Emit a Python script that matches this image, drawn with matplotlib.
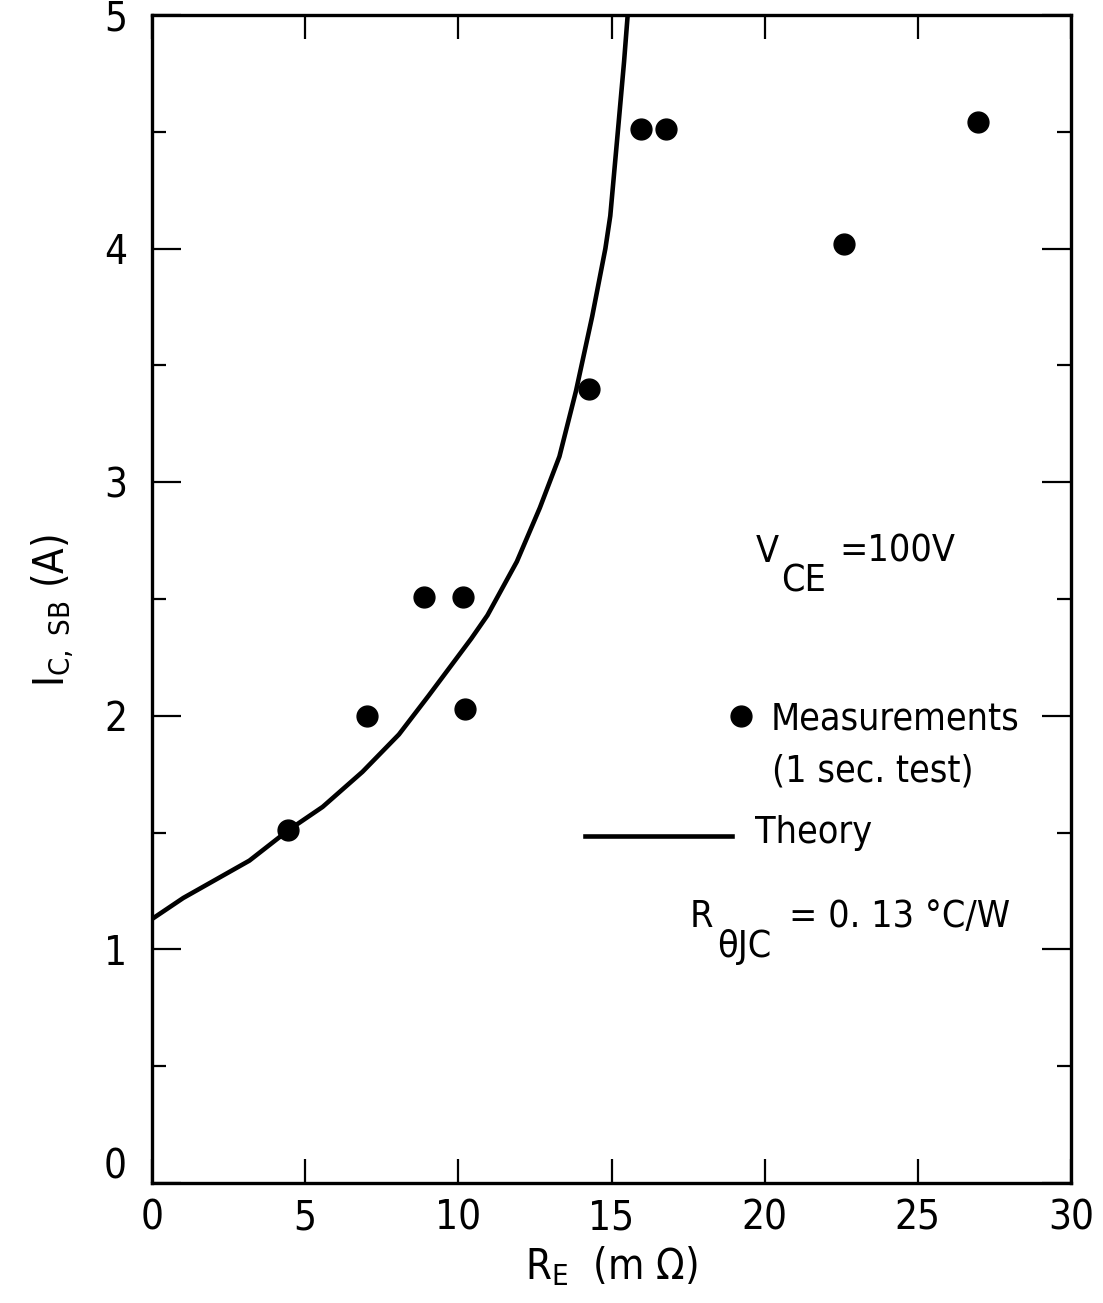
import matplotlib
matplotlib.use("Agg")
import matplotlib.pyplot as plt
from matplotlib.transforms import ScaledTranslation

plt.rcParams['font.family'] = ['DejaVu Sans']
plt.rcParams['font.stretch'] = 'condensed'
plt.rcParams['mathtext.fontset'] = 'custom'
plt.rcParams['mathtext.rm'] = 'DejaVu Sans:stretch=condensed'
plt.rcParams['mathtext.it'] = 'DejaVu Sans:italic:stretch=condensed'
plt.rcParams['mathtext.default'] = 'regular'

# measurements, 1 sec. test  (R_E in mOhm, I_C,SB in A)
meas_re = [4.45, 7.02, 8.87, 10.16, 10.22, 14.28, 15.97, 16.77, 22.6, 26.95]
meas_ic = [1.51, 2.00, 2.51, 2.51, 2.03, 3.40, 4.51, 4.51, 4.02, 4.54]

# theory curve
theory_re = [0.0, 1.02, 2.1, 3.18, 4.45, 5.57, 6.87, 8.06, 9.03, 9.68, 10.42,
             10.95, 11.91, 12.66, 13.30, 13.84, 14.37, 14.80, 14.96, 15.22,
             15.41, 15.54]
theory_ic = [1.13, 1.22, 1.30, 1.38, 1.51, 1.61, 1.76, 1.92, 2.086, 2.20, 2.33,
             2.43, 2.66, 2.89, 3.11, 3.39, 3.71, 4.0, 4.14, 4.52,
             4.80, 5.02]

x_ticks = [0, 5, 10, 15, 20, 25, 30]
y_ticks = [0, 1, 2, 3, 4, 5]
y_minor = [0.5, 1.5, 2.5, 3.5, 4.5]

fig = plt.figure(figsize=(11.03, 13.03), dpi=100)
ax = fig.add_axes([0.1378, 0.0921, 0.8332, 0.8964])

ax.plot(theory_re, theory_ic, color='black', lw=3.3, solid_capstyle='butt',
        solid_joinstyle='round')
ax.plot(meas_re, meas_ic, 'o', color='black', ms=15, ls='none')

ax.set_xlim(0, 30)
ax.set_ylim(0, 5)
ax.set_xticks(x_ticks)
ax.set_yticks(y_ticks)
ax.set_yticks(y_minor, minor=True)
ax.tick_params(axis='both', which='both', direction='in', top=True, right=True,
               width=1.6, labelsize=29, colors='black')
ax.tick_params(axis='x', which='major', length=17, pad=11)
ax.tick_params(axis='y', which='major', length=21, pad=18)
ax.tick_params(axis='y', which='minor', length=10)
for s in ax.spines.values():
    s.set_linewidth(2.4)

# the "0" on the y axis sits a little above its tick
lab0 = ax.yaxis.get_major_ticks()[0].label1
lab0.set_transform(lab0.get_transform() + ScaledTranslation(0, 0.2, fig.dpi_scale_trans))

ax.set_xlabel(r'R$_{E}$  (m Ω)', fontsize=30, labelpad=4)
ax.set_ylabel(r'I$_{C,\ SB}$ (A)', fontsize=30)
ax.yaxis.set_label_coords(-0.083, 0.49)

# annotations
fs = 27
ax.text(19.7, 2.66, 'V', fontsize=fs, va='baseline')
ax.text(20.55, 2.53, 'CE', fontsize=fs, va='baseline')
ax.text(22.45, 2.66, '=100V', fontsize=fs, va='baseline')

ax.plot([19.23], [2.0], 'o', color='black', ms=15)
ax.text(20.2, 1.94, 'Measurements', fontsize=fs, va='baseline')
ax.text(20.24, 1.717, '(1 sec. test)', fontsize=fs, va='baseline')

ax.plot([14.14, 18.94], [1.485, 1.485], color='black', lw=3.3)
ax.text(19.69, 1.455, 'Theory', fontsize=fs, va='baseline')

ax.text(17.56, 1.096, 'R', fontsize=fs, va='baseline')
ax.text(18.45, 0.967, 'θJC', fontsize=fs, va='baseline')
ax.text(20.8, 1.096, '= 0. 13 °C/W', fontsize=fs, va='baseline')

fig.savefig('out.png', dpi=100)
